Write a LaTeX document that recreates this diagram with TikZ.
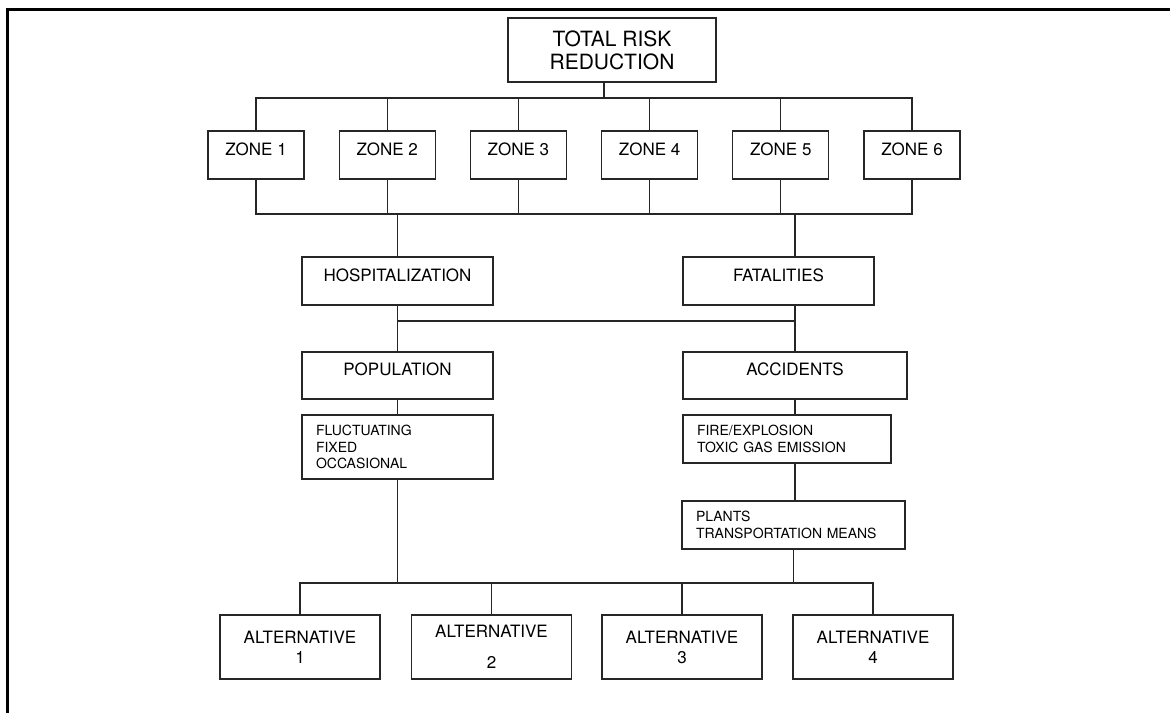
\documentclass[tikz,border=0pt]{standalone}
\usepackage{fontspec}
\setmainfont{TeX Gyre Heros}
\tikzset{
    box/.style={draw=black!85, line width=1.3pt, rectangle, inner sep=0pt},
    link/.style={draw=black!85, line width=1.3pt},
    single/.style={text height=12pt, text depth=12pt, font=\fontsize{17}{20}\selectfont},
    small/.style={align=left, inner xsep=14pt, font=\fontsize{14}{16.5}\selectfont},
}

\begin{document}
\begin{tikzpicture}[x=1pt,y=-1pt]
                \useasboundingbox (0,0) rectangle (1170,713);
                \draw[line width=3pt] (7.5,713) -- (7.5,9.5) -- (1170,9.5);

                \node[box,minimum width=208pt,minimum height=64pt,align=center,font=\fontsize{21}{23}\selectfont] (total) at (612,50) {TOTAL RISK\\REDUCTION};
                \foreach \i in {1,...,6}
                    \node[box,single,minimum width=96pt,minimum height=48pt] (z\i) at ({256+131.2*(\i-1)},155) {ZONE \i};

                \node[box,single,minimum width=191pt,minimum height=48pt] (hosp) at (397.5,281) {HOSPITALIZATION};
                \node[box,single,minimum width=191pt,minimum height=48pt] (fatal) at (778.5,281) {FATALITIES};
                \node[box,single,minimum width=191pt,minimum height=47pt] (pop) at (397.5,375.5) {POPULATION};
                \node[box,single,minimum width=224pt,minimum height=47pt] (acc) at (795,375.5) {ACCIDENTS};
                \node[box,small,text width=163pt,minimum height=64pt] (fluct) at (397.5,447) {FLUCTUATING\\FIXED\\OCCASIONAL};
                \node[box,small,text width=180pt,minimum height=48pt] (fire) at (787,439) {FIRE/EXPLOSION\\TOXIC GAS EMISSION};
                \node[box,small,text width=195pt,minimum height=48pt] (plants) at (793.5,525) {PLANTS\\TRANSPORTATION MEANS};

                \node[box,align=center,minimum width=160pt,minimum height=64pt,font=\fontsize{17}{20}\selectfont] (a1) at (300,647) {ALTERNATIVE\\1};
                \node[box,align=center,minimum width=160pt,minimum height=64pt,font=\fontsize{17}{20}\selectfont] (a2) at (491.5,647) {ALTERNATIVE\\[11pt]2};
                \node[box,align=center,minimum width=160pt,minimum height=64pt,font=\fontsize{17}{20}\selectfont] (a3) at (682,647) {ALTERNATIVE\\3};
                \node[box,align=center,minimum width=160pt,minimum height=64pt,font=\fontsize{17}{20}\selectfont] (a4) at (873,647) {ALTERNATIVE\\4};

                % bus lines
                \coordinate (ztop) at (0,98);
                \coordinate (zbot) at (0,214);
                \coordinate (mid) at (0,321);
                \coordinate (abar) at (0,583);

                \draw[link] ([xshift=-8pt]total.south) -- ([xshift=-8pt]total.south |- ztop);
                \draw[link] (z1.north) |- (ztop -| z6.north) -- (z6.north);
                \draw[link] (z1.south) |- (zbot -| z6.south) -- (z6.south);
                \foreach \i in {2,...,5} {
                    \draw[link] (z\i.north) -- (z\i.north |- ztop);
                    \draw[link] (z\i.south) -- (z\i.south |- zbot);
                }

                \draw[link] (hosp.north) -- (hosp.north |- zbot);
                \draw[link] (fatal.north -| acc.north) -- (zbot -| acc.north);
                \draw[link] (hosp.south) -- (pop.north);
                \draw[link] (fatal.south -| acc.north) -- (acc.north);
                \draw[link] (mid -| hosp.south) -- (mid -| acc.north);
                \draw[link] (pop.south) -- (fluct.north);
                \draw[link] (acc.south) -- (acc.south |- fire.north);
                \draw[link] (fire.south -| acc.south) -- (plants.north -| acc.south);

                \draw[link] (fluct.south) -- (fluct.south |- abar);
                \draw[link] (plants.south) -- (plants.south |- abar);
                \draw[link] (a1.north) |- (abar -| a4.north) -- (a4.north);
                \draw[link] (a2.north) -- (a2.north |- abar);
                \draw[link] (a3.north) -- (a3.north |- abar);

            \end{tikzpicture}
\end{document}
